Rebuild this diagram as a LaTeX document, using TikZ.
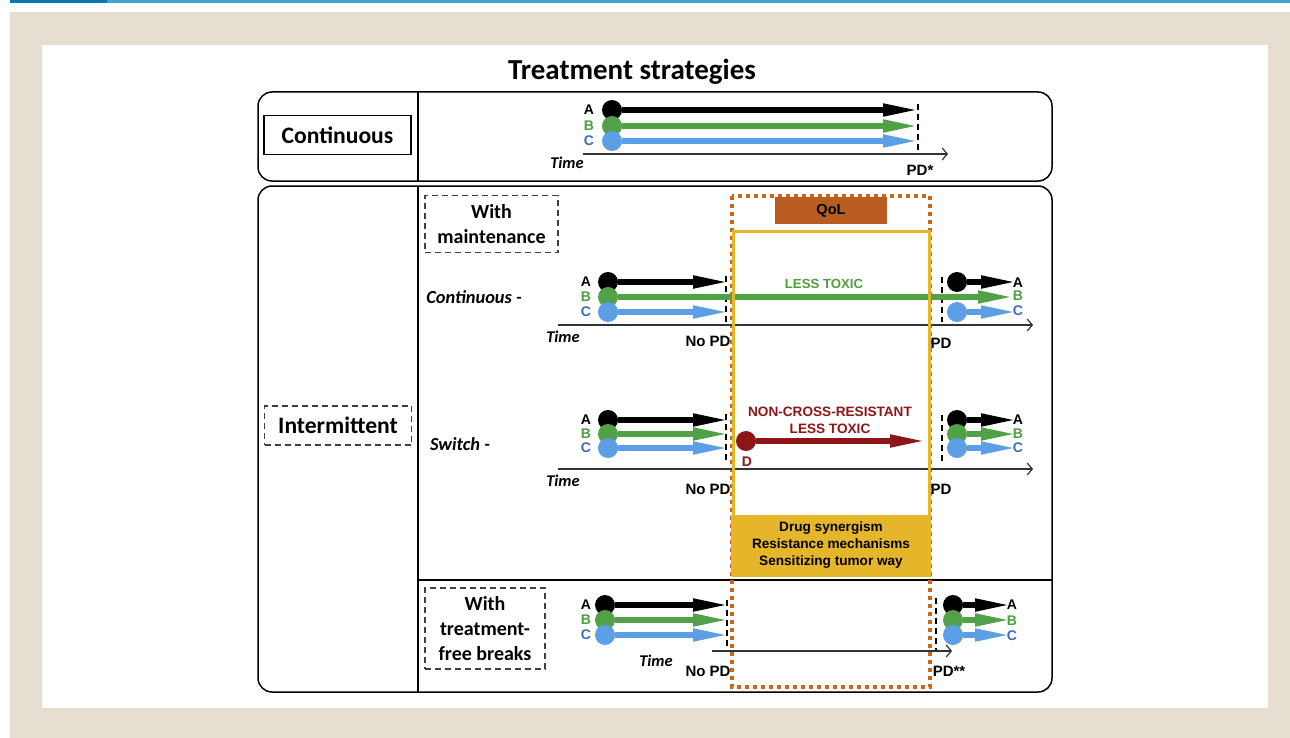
\documentclass[tikz,border=0pt]{standalone}
\usepackage{fontspec}
\setmainfont{Carlito}
\newfontfamily\arialfont{Liberation Sans}
\usetikzlibrary{arrows.meta}
\definecolor{pagebeige}{HTML}{E6DFD1}
\definecolor{bardark}{HTML}{0A78AE}
\definecolor{barlight}{HTML}{45A2CC}
\definecolor{drugblack}{HTML}{000000}
\definecolor{druggreen}{HTML}{52A047}
\definecolor{drugblue}{HTML}{5C9FE6}
\definecolor{labgreen}{HTML}{4E9F3D}
\definecolor{labblue}{HTML}{3F6BC0}
\definecolor{drugred}{HTML}{8E1518}
\definecolor{qolorange}{HTML}{B95C1F}
\definecolor{dotorange}{HTML}{C8661E}
\definecolor{mechyellow}{HTML}{E5B52A}
\definecolor{axisgray}{HTML}{333333}

\tikzset{
  drugdot/.style={circle, fill=#1, inner sep=0pt, minimum size=10pt},
  drug/.style={draw=#1, line width=3.2pt, -{Triangle[length=16pt, width=6.8pt, line width=0pt]}},
  timeaxis/.style={draw=axisgray, line width=0.6pt, -{Straight Barb[length=2.5pt, width=6pt]}},
  pdmark/.style={line width=0.8pt, dash pattern=on 3pt off 2pt},
  abc/.style={font=\arialfont\bfseries\fontsize{7}{8}\selectfont, inner sep=0pt},
  pdlbl/.style={font=\arialfont\bfseries\fontsize{7.5}{9}\selectfont, inner sep=0pt},
  timelbl/.style={font=\bfseries\itshape\fontsize{8.2}{9}\selectfont, inner sep=0pt},
  rowlbl/.style={font=\bfseries\itshape\fontsize{9.2}{11}\selectfont, inner sep=0pt},
  catbox/.style={draw, line width=0.6pt, minimum width=73.5pt, minimum height=19.5pt, font=\bfseries\fontsize{11.8}{13}\selectfont},
  subbox/.style={draw=black!75, dash pattern=on 3pt off 2pt, line width=0.6pt, align=center, font=\bfseries\fontsize{10}{12.4}\selectfont},
  note/.style={font=\arialfont\bfseries\fontsize{6.8}{8.5}\selectfont, align=center, inner sep=0pt},
}

\begin{document}
\begin{tikzpicture}[x=0.5pt, y=-0.5pt]
  \useasboundingbox (0,0) rectangle (1290,738);

  % Page background and top bar
  \fill[white] (0,0) rectangle (1290,738);
  \fill[pagebeige] (10,12) rectangle (1290,738);
  \fill[white] (42,45) rectangle (1268,708);
  \fill[barlight] (10,0) rectangle (1290,3.5);
  \fill[bardark] (10,0) rectangle (107,3.5);

  % Title
  \node[font=\bfseries\fontsize{14.5}{16}\selectfont] (title) at (632,72) {Treatment strategies};

  % Frames
  \draw[line width=0.75pt, rounded corners=7pt] (258,92) rectangle (1052,181);
  \draw[line width=0.75pt, rounded corners=7pt] (258,186) rectangle (1052,692);
  \draw[line width=0.75pt] (418,92) -- (418,181) (418,186) -- (418,692) (418,580) -- (1052,580);

  % Strategy labels
  \node[catbox] (contbox) at (337.5,135) {Continuous};
  \node[catbox, draw=black!75, dash pattern=on 3pt off 2pt] (interbox) at (338,425.5) {Intermittent};
  \node[subbox, minimum width=66.5pt, minimum height=28.5pt] (maintbox) at (491.5,224) {With\\maintenance};
  \node[subbox, minimum width=60pt, minimum height=40.5pt] (breakbox) at (485,628.5) {With\\treatment-\\free breaks};
  \node[rowlbl] (controw) at (474,297) {Continuous -};
  \node[rowlbl] (switchrow) at (460,444) {Switch -};

  % QoL window (dotted)
  \draw[dotorange, line width=2pt, dash pattern=on 2pt off 2pt] (732,196) rectangle (930,687);
  \node[fill=qolorange, minimum width=56pt, minimum height=13.5pt, font=\arialfont\bfseries\fontsize{7.3}{9}\selectfont] (qol) at (831,210.5) {QoL};

  % Time axes
  \foreach \xa/\xb/\y in {583/948/154, 558/1033/325, 558/1033/469, 712/952/651} {
    \draw[timeaxis] (\xa,\y) -- (\xb,\y);
  }
  \foreach \n/\x/\y in {ttop/567/163, tmaint/563/337, tswitch/563/481, tbreak/656/661} {
    \node[timelbl] (\n) at (\x,\y) {Time};
  }

  % Progression marks
  \foreach \x/\ya/\yb in {918/104/150, 726/276/322, 942/277/322, 726/414/462, 942/415/462, 727/600/647, 936/598/650} {
    \draw[pdmark] (\x,\ya) -- (\x,\yb);
  }
  \foreach \n/\x/\y/\t in {pdtop/920/170/{PD*}, nomaint/708/341/{No PD}, pdmaint/941/343/{PD},
                           noswitch/708/489/{No PD}, pdswitch/941/489/{PD}, nobreak/708/671/{No PD}, pdbreak/949/671/{PD**}} {
    \node[pdlbl] (\n) at (\x,\y) {\t};
  }

  % Drug lines: name / colour / start x / y / end x
  \foreach \n/\c/\x/\y/\e in {
    topA/drugblack/612/110/915, topB/druggreen/612/126/915, topC/drugblue/612/141/915,
    mA/drugblack/608/282/725, mB/druggreen/608/297/1010, mC/drugblue/608/312/725,
    mA2/drugblack/957/282/1013, mC2/drugblue/957/312/1013,
    sA/drugblack/608/420/725, sB/druggreen/608/434/725, sC/drugblue/608/448/725,
    sD/drugred/746/441/922,
    sA2/drugblack/957/420/1013, sB2/druggreen/957/434/1013, sC2/drugblue/957/448/1013,
    bA/drugblack/605/605/725, bB/druggreen/605/620/725, bC/drugblue/605/635/725,
    bA2/drugblack/953/605/1007, bB2/druggreen/953/620/1007, bC2/drugblue/953/635/1007
  } {
    \node[drugdot=\c] (\n) at (\x,\y) {};
    \coordinate (\n-end) at (\e,\y);
    \draw[drug=\c] (\n) -- (\n-end);
  }

  % Drug letters
  \foreach \g/\lx/\ya/\yb/\yc in {topL/589/110/126/141, mL/586/282/297/312, mR/1018/283/296/311,
                                  sL/586/420/434/448, sR/1018/420/434/448, bL/586/605/620/635, bR/1012/605/621/636} {
    \node[abc, text=black] (\g-A) at (\lx,\ya) {A};
    \node[abc, text=labgreen] (\g-B) at (\lx,\yb) {B};
    \node[abc, text=labblue] (\g-C) at (\lx,\yc) {C};
  }
  \node[abc, text=drugred] (sD-lbl) at (747,462) {D};

  % Notes on the drug lines
  \node[note, text=labgreen, font=\arialfont\bfseries\fontsize{6.6}{8}\selectfont] (lesstox) at (824,284) {LESS TOXIC};
  \node[note, text=drugred] (noncross) at (830,420) {NON-CROSS-RESISTANT\\LESS TOXIC};

  % Mechanism frame
  \draw[mechyellow, line width=1.5pt] (733,231) rectangle (929,575);
  \node[note, fill=mechyellow, minimum width=100pt, minimum height=30pt] (mech) at (831,545)
    {Drug synergism\\Resistance mechanisms\\Sensitizing tumor way};

\end{tikzpicture}
\end{document}
